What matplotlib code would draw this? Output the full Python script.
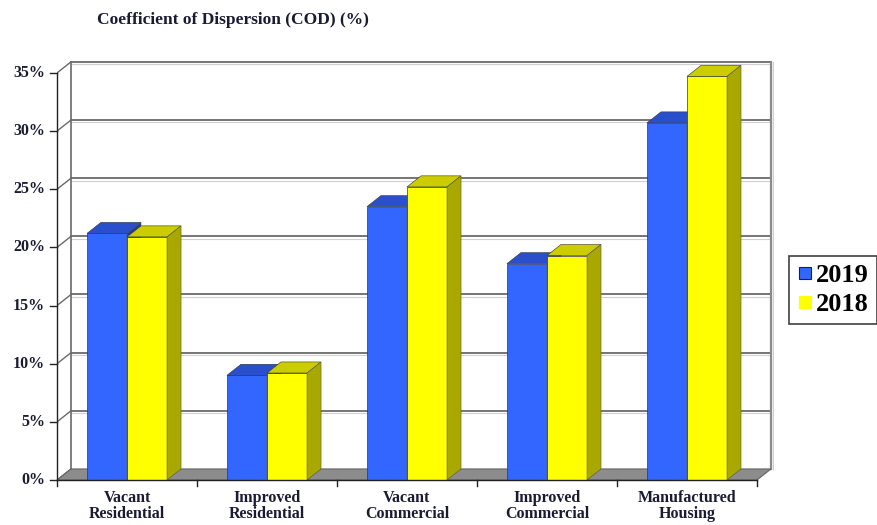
"""
Coefficient of Dispersion chart, drawn as Excel-like 3D clustered columns.
"""

import matplotlib.pyplot as plt
from matplotlib.patches import Polygon
from matplotlib.lines import Line2D
import numpy as np

categories = ["Vacant\nResidential", "Improved\nResidential", "Vacant\nCommercial",
              "Improved\nCommercial", "Manufactured\nHousing"]
cod_2019 = [21.2, 9.0, 23.5, 18.6, 30.7]
cod_2018 = [20.9, 9.2, 25.2, 19.3, 34.7]
series_names = ["2019", "2018"]
y_ticks = [0, 5, 10, 15, 20, 25, 30, 35]

# face / top / side colors per series
colors = [("#3366ff", "#2a4fcc", "#1f3c99"),
          ("#ffff00", "#cccc00", "#a8a800")]
DX, DY = 0.1, 0.95  # depth offset in data units
BW = 0.286
serif = "Liberation Serif"
label_color = "#1a1a33"

fig = plt.figure(figsize=(8.77, 5.25), dpi=100)
ax = fig.add_axes([0.065, 0.0857, 0.8173, 0.802])
ax.set_xlim(-0.5, 4.62)
ax.set_ylim(0, 36.2)
ax.axis("off")

x = np.arange(len(categories))
x0, x1 = -0.5, len(categories) - 0.5
top = y_ticks[-1]

# floor
ax.add_patch(Polygon([(x0, 0), (x1, 0), (x1 + DX, DY), (x0 + DX, DY)],
                     closed=True, facecolor="#8c8c8c", edgecolor="#666666", lw=0.8, zorder=1))
# back wall gridlines and left wall diagonals
for t in y_ticks[1:]:
    ax.plot([x0 + DX, x1 + DX], [t + DY, t + DY], color="#6a6a6a", lw=1.3, zorder=0.5)
    ax.plot([x0 + DX, x1 + DX], [t + DY - 0.2, t + DY - 0.2], color="#d0d0d0", lw=0.8, zorder=0.4)
for t in y_ticks:
    ax.plot([x0, x0 + DX], [t, t + DY], color="#6a6a6a", lw=1.0, zorder=0.5)
ax.plot([x0 + DX, x0 + DX], [DY, top + DY], color="#6a6a6a", lw=1.2, zorder=0.5)
ax.plot([x1 + DX, x1 + DX], [DY, top + DY], color="#8a8a8a", lw=1.6, zorder=0.5)
ax.plot([x1 + DX + 0.012, x1 + DX + 0.012], [DY, top + DY], color="#d0d0d0", lw=1.0, zorder=0.4)

# front axes
ax.plot([x0, x0], [0, top], color="#222222", lw=1.0, zorder=3, clip_on=False)
ax.plot([x0, x1], [0, 0], color="#222222", lw=1.0, zorder=3, clip_on=False)
for t in y_ticks:
    ax.plot([x0 - 0.05, x0], [t, t], color="#222222", lw=1.0, clip_on=False)
    ax.text(x0 - 0.085, t, f"{t}%", ha="right", va="center", fontsize=11.5,
            family=serif, fontweight="bold", color=label_color)
for b in np.arange(x0, x1 + 0.5, 1.0):
    ax.plot([b, b], [0, -0.5], color="#222222", lw=1.0, clip_on=False)

# bars
for s, vals in enumerate([cod_2019, cod_2018]):
    face, topc, side = colors[s]
    left = x - BW + s * BW
    ax.bar(left, vals, width=BW, align="edge", color=face, edgecolor="#333355",
           lw=0.5, zorder=2 + s * 0.1)
    for l, v in zip(left, vals):
        r = l + BW
        ax.add_patch(Polygon([(l, v), (r, v), (r + DX, v + DY), (l + DX, v + DY)], closed=True,
                             facecolor=topc, edgecolor="#333333", lw=0.4, zorder=2 + s * 0.1))
        ax.add_patch(Polygon([(r, 0), (r + DX, DY), (r + DX, v + DY), (r, v)], closed=True,
                             facecolor=side, edgecolor="#555555", lw=0.4, zorder=2 + s * 0.1))

for xi, name in zip(x, categories):
    ax.text(xi, -0.9, name, ha="center", va="top", fontsize=11.5, family=serif,
            fontweight="bold", color=label_color, linespacing=0.95)

fig.text(97 / 877, 1 - 20 / 525, "Coefficient of Dispersion (COD) (%)", ha="left", va="center",
         fontsize=12.5, family=serif, fontweight="bold", color=label_color)

handles = [Line2D([0], [0], marker="s", ls="none", markersize=9, markerfacecolor=colors[i][0],
                  markeredgecolor="#222222" if i == 0 else colors[i][0], markeredgewidth=0.8)
           for i in range(2)]
leg = fig.legend(handles, series_names, loc="center", bbox_to_anchor=(833 / 877, 1 - 290 / 525),
                 prop={"family": serif, "weight": "bold", "size": 19}, frameon=True, fancybox=False,
                 handlelength=0.55, handletextpad=0.15, borderpad=0.3, labelspacing=0.2,
                 borderaxespad=0)
leg.get_frame().set_edgecolor("#111111")
leg.get_frame().set_linewidth(1.2)

plt.savefig("out.png", dpi=100)
plt.close()
